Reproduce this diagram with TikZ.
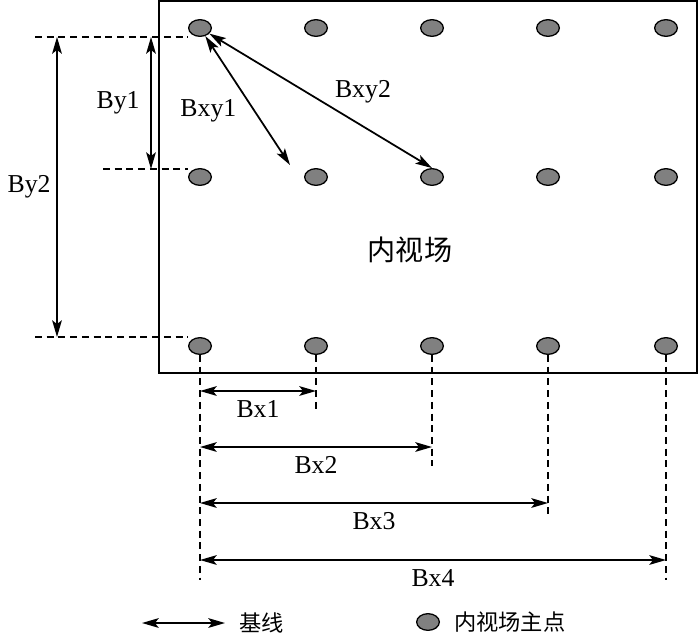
\documentclass[tikz,border=0pt]{standalone}
\usepackage{fontspec}
\setmainfont{Liberation Serif}
\newfontfamily\cjk{Noto Sans CJK SC}
\usetikzlibrary{positioning,shapes.geometric,arrows.meta}

\begin{document}
\begin{tikzpicture}[x=0.03cm, y=-0.03cm,
  pt/.style={ellipse, draw=black, line width=1.1pt, fill=black!50,
             minimum width=0.68cm, minimum height=0.5cm, inner sep=0pt},
  dim/.style={{Stealth[length=5mm,width=2.9mm,inset=1.1mm]}-{Stealth[length=5mm,width=2.9mm,inset=1.1mm]},
              line width=1.5pt},
  guide/.style={dash pattern=on 6pt off 4pt, line width=1.1pt},
  lb/.style={font=\fontsize{22}{24}\selectfont},
  zh/.style={font=\cjk\fontsize{19}{22}\selectfont},
  zhbig/.style={font=\cjk\fontsize{24}{28}\selectfont}
]
\useasboundingbox (0,0) rectangle (700,634);
% ---- cadre du champ et points principaux ---------------------------------
\draw[line width=1.6pt] (159,1) rectangle (697,373);
\foreach \c [count=\i] in {200,316,432,548,666}
  \foreach \r [count=\j] in {28,177,346}
    \node[pt] (p\j\i) at (\c,\r) {};
\node[zhbig] (fov) at (410,250) {内视场};

% ---- lignes de rappel ------------------------------------------------------
\coordinate (gy1) at (35,37);
\coordinate (gy2) at (103,169);
\coordinate (gy3) at (35,337);
\draw[guide] (gy1) -- (gy1 -| p11.west);
\draw[guide] (gy2) -- (gy2 -| p21.west);
\draw[guide] (gy3) -- (gy3 -| p31.west);
\foreach \e [count=\i] in {580,410,466,518,580}{
  \coordinate (v\i) at (p3\i |- 0,\e);
  \draw[guide] (p3\i) -- (v\i);
}

% ---- bases verticales et obliques -----------------------------------------
\coordinate (by1t) at (151,37);
\coordinate (by1b) at (151,169);
\coordinate (by2t) at (57,37);
\coordinate (by2b) at (57,337);
\draw[dim] (by1t) -- (by1b) node[midway, left=2mm, lb] {By1};
\draw[dim] (by2t) -- (by2b) node[midway, left=0.5mm, lb] {By2};
\coordinate (bxy1) at (290,165);
\draw[dim] (p11) -- (bxy1) node[pos=0.58, left=4mm, lb] {Bxy1};
\draw[dim] (p11) -- (p23.north) node[pos=0.69, above=5.5mm, lb] {Bxy2};

% ---- bases horizontales ----------------------------------------------------
\foreach \y/\c [count=\k] in {391/316,447/432,503/548,560/666}{
  \coordinate (bxs\k) at (200,\y);
  \coordinate (bxe\k) at (\c,\y);
  \draw[dim] (bxs\k) -- (bxe\k) node[midway, below=1.5mm, lb] {Bx\k};
}

% ---- legende ---------------------------------------------------------------
\coordinate (lga) at (142,623);
\coordinate (lgb) at (225,623);
\draw[dim] (lga) -- (lgb);
\node[zh, right=3mm of lgb] (lgt) {基线};
\node[pt] (ld) at (428,622) {};
\node[zh, right=3mm of ld] (ldt) {内视场主点};
\end{tikzpicture}
\end{document}
